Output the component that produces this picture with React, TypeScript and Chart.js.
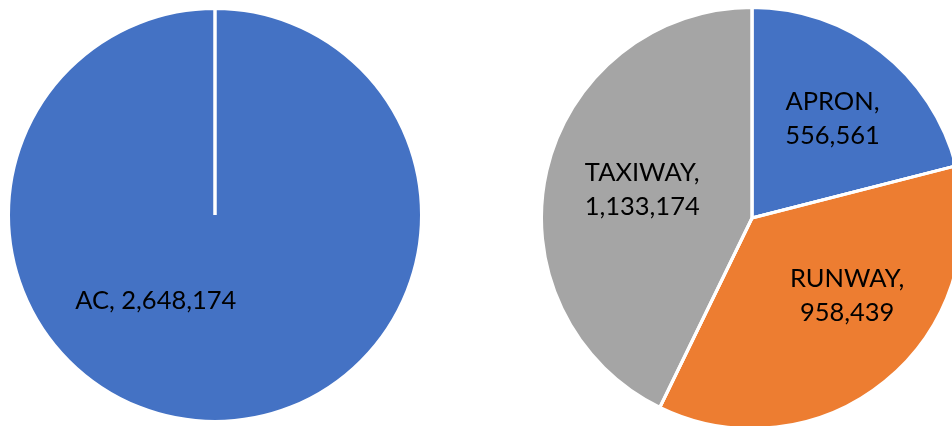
import React, { useEffect, useRef } from "react";
import { Chart, registerables } from "chart.js";

Chart.register(...registerables);

// ---- Data ----
const leftCategories = ["AC"];
const leftValues = [2648174];
const rightCategories = ["APRON", "RUNWAY", "TAXIWAY"];
const rightValues = [556561, 958439, 1133174];

// ---- Styling ----
const leftColors = ["#4472C4"];
const rightColors = ["#4472C4", "#ED7D31", "#A5A5A5"];
const leftLabelFrac = [0.5];
const leftLabelAngleShift = [35];
const rightLabelFrac = [0.61, 0.58, 0.54];
const rightLabelAngleShift = [1, -12, 2];
const leftSingleLine = true;
const FONT = "Lato";
const FONT_SIZE = 25.5;
const LINE_GAP = 34;
const BORDER = 3;

const fmt = (v: number) => v.toLocaleString("en-US");

function makeLabelPlugin(frac: number[], shift: number[], singleLine: boolean) {
  return {
    id: "sliceLabels",
    afterDatasetsDraw(chart: any) {
      const ctx = chart.ctx;
      const meta = chart.getDatasetMeta(0);
      const labels = chart.data.labels as string[];
      const data = chart.data.datasets[0].data as number[];
      ctx.save();
      // radial border line at the start of every slice
      meta.data.forEach((arc: any) => {
        const p = arc.getProps(["x", "y", "startAngle", "outerRadius"], true);
        ctx.beginPath();
        ctx.moveTo(p.x, p.y);
        ctx.lineTo(p.x + Math.cos(p.startAngle) * p.outerRadius, p.y + Math.sin(p.startAngle) * p.outerRadius);
        ctx.strokeStyle = "#ffffff";
        ctx.lineWidth = BORDER;
        ctx.stroke();
      });
      ctx.font = `${FONT_SIZE}px ${FONT}`;
      ctx.fillStyle = "#000000";
      ctx.textAlign = "center";
      ctx.textBaseline = "alphabetic";
      const capH = ctx.measureText("A").actualBoundingBoxAscent;
      meta.data.forEach((arc: any, i: number) => {
        const p = arc.getProps(["x", "y", "startAngle", "endAngle", "outerRadius"], true);
        const mid = (p.startAngle + p.endAngle) / 2 + (shift[i] * Math.PI) / 180;
        const r = p.outerRadius * frac[i];
        const cx = p.x + Math.cos(mid) * r;
        const cy = p.y + Math.sin(mid) * r;
        if (singleLine) {
          ctx.fillText(`${labels[i]}, ${fmt(data[i])}`, cx, cy + capH / 2);
        } else {
          ctx.fillText(`${labels[i]},`, cx, cy - LINE_GAP / 2 + capH / 2);
          ctx.fillText(fmt(data[i]), cx, cy + LINE_GAP / 2 + capH / 2);
        }
      });
      ctx.restore();
    },
  };
}

function Pie(props: {
  labels: string[];
  values: number[];
  colors: string[];
  frac: number[];
  shift: number[];
  singleLine: boolean;
  style: React.CSSProperties;
  size: number;
}) {
  const ref = useRef<HTMLCanvasElement>(null);
  useEffect(() => {
    if (!ref.current) return;
    const chart = new Chart(ref.current, {
      type: "pie",
      data: {
        labels: props.labels,
        datasets: [
          {
            data: props.values,
            backgroundColor: props.colors,
            borderColor: "#ffffff",
            borderWidth: BORDER,
          },
        ],
      },
      options: {
        responsive: false,
        animation: false,
        layout: { padding: 0 },
        plugins: { legend: { display: false }, tooltip: { enabled: false }, title: { display: false } },
      },
      plugins: [makeLabelPlugin(props.frac, props.shift, props.singleLine)],
    } as any);
    return () => chart.destroy();
  }, []);
  return (
    <canvas
      ref={ref}
      width={props.size}
      height={props.size}
      style={{ position: "absolute", width: props.size, height: props.size, ...props.style }}
    />
  );
}

export default function App() {
  return (
    <div
      style={{
        position: "fixed",
        left: 0,
        top: 0,
        width: 952,
        height: 426,
        overflow: "hidden",
        background: "#ffffff",
      }}
    >
      <Pie
        labels={leftCategories}
        values={leftValues}
        colors={leftColors}
        frac={leftLabelFrac}
        shift={leftLabelAngleShift}
        singleLine={leftSingleLine}
        size={416}
        style={{ left: 7, top: 7 }}
      />
      <Pie
        labels={rightCategories}
        values={rightValues}
        colors={rightColors}
        frac={rightLabelFrac}
        shift={rightLabelAngleShift}
        singleLine={false}
        size={424}
        style={{ left: 540, top: 6 }}
      />
    </div>
  );
}
